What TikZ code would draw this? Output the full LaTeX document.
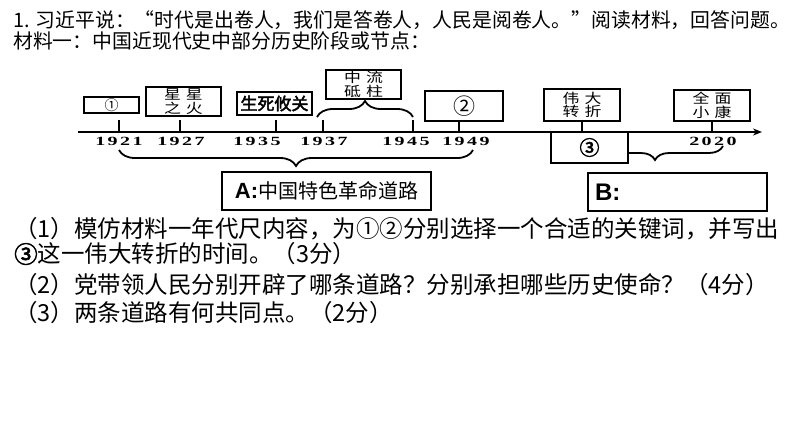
\documentclass[tikz,border=0pt]{standalone}
\usepackage{fontspec}
\setmainfont{Liberation Serif}
\newfontfamily\cjk{Noto Sans CJK SC}[AutoFakeBold=2.5]
\newfontfamily\cjkwide{Noto Sans CJK SC}[FakeStretch=1.25]
\newfontfamily\yearfont{Liberation Serif}[FakeStretch=1.6, LetterSpace=20]
\newfontfamily\latsans{Liberation Sans}
\usetikzlibrary{positioning,decorations.pathreplacing,arrows.meta}

\newcommand{\wsp}{\hspace{5pt}}

\tikzset{
  keybox/.style={draw, line width=1.3pt, fill=white, inner sep=0pt, align=center,
    font=\cjkwide\fontsize{13.5}{13.5}\selectfont},
  ticks/.style={line width=2.2pt},
  axisline/.style={line width=1.6pt, -{Stealth[length=9pt,width=7pt]}},
  year/.style={font=\yearfont\bfseries\fontsize{12.5}{12.5}\selectfont, inner sep=0pt},
  roadbrace/.style={decorate, decoration={brace, amplitude=#1}, line width=1.8pt},
  roadbox/.style={draw, line width=1.1pt, fill=white, inner sep=6pt},
  bodytext/.style={anchor=west, inner sep=0pt, font=\cjk\fontsize{#1}{#1}\selectfont}
}

\begin{document}
\begin{tikzpicture}[x=1pt,y=-1pt]
  \useasboundingbox (0,0) rectangle (794,447);

  % question head
  \node[bodytext=19.85] (head) at (13,20) {1. 习近平说：“时代是出卷人，我们是答卷人，人民是阅卷人。”阅读材料，回答问题。};
  \node[bodytext=19.85] (mat) at (13,41) {材料一：中国近现代史中部分历史阶段或节点：};

  % time axis
  \coordinate (axL) at (78,132);
  \coordinate (axR) at (762,132);
  \draw[axisline] (axL) -- (axR);
  \foreach \x/\n in {119/1921,180/1927,276/1935,323/1937,413/1945,459/1949,582/turn,712/2020}
    {\coordinate (t\n) at (\x,132);
     \draw[ticks] (t\n) -- ++(0,-12);}
  \foreach \x/\n in {118/1921,180/1927,256/1935,323/1937,405/1945,465/1949,712/2020}
    \node[year] (y\n) at (\x+1,141) {\n};

  % braces
  \draw[roadbrace=16] (317,117) -- (413,117);
  \draw[roadbrace=16] (473,150) -- (119,150);
  \draw[roadbrace=14] (723,146) -- (587,146);

  % key words
  \node[keybox, minimum width=55, minimum height=16, font=\cjk\fontsize{14}{14}\selectfont] (k1921) at (111.5,105) {①};
  \node[keybox, minimum width=75, minimum height=29] (k1927) at (183.5,101.5) {星\wsp 星\\之\wsp 火};
  \node[keybox, minimum width=75, minimum height=23, font=\cjk\bfseries\fontsize{17}{17}\selectfont] (k1935) at (274.5,103.5) {生死攸关};
  \node[keybox, minimum width=75, minimum height=29] (k1937) at (363.5,84.5) {中\wsp 流\\砥\wsp 柱};
  \node[keybox, minimum width=78, minimum height=30, font=\cjk\fontsize{22}{22}\selectfont] (k1949) at (464,106) {②};
  \node[keybox, minimum width=76, minimum height=32] (kturn) at (582,105) {伟\wsp 大\\转\wsp 折};
  \node[keybox, minimum width=76, minimum height=31] (k2020) at (712,105.5) {全\wsp 面\\小\wsp 康};
  \node[keybox, minimum width=77, minimum height=31, font=\cjk\bfseries\fontsize{20}{20}\selectfont] (kyear) at (589.5,147.5) {③};

  % two roads
  \node[roadbox, minimum width=209, minimum height=38] (roadA) at (326.5,191)
    {{\latsans\bfseries\fontsize{22}{22}\selectfont A:}{\cjk\fontsize{20}{20}\selectfont 中国特色革命道路}};
  \node[roadbox, minimum width=179, minimum height=38, text width=165, align=left] (roadB) at (677.5,192)
    {\latsans\bfseries\fontsize{24}{24}\selectfont B:};

  % questions
  \node[bodytext=23.5] (q1) at (14,229) {（1）模仿材料一年代尺内容，为①②分别选择一个合适的关键词，并写出};
  \node[bodytext=23.5] (q1b) at (14,254) {{\bfseries ③}这一伟大转折的时间。（3分）};
  \node[bodytext=23.5] (q2) at (14,285) {（2）党带领人民分别开辟了哪条道路？分别承担哪些历史使命？（4分）};
  \node[bodytext=23.5] (q3) at (14,313) {（3）两条道路有何共同点。（2分）};
\end{tikzpicture}
\end{document}
